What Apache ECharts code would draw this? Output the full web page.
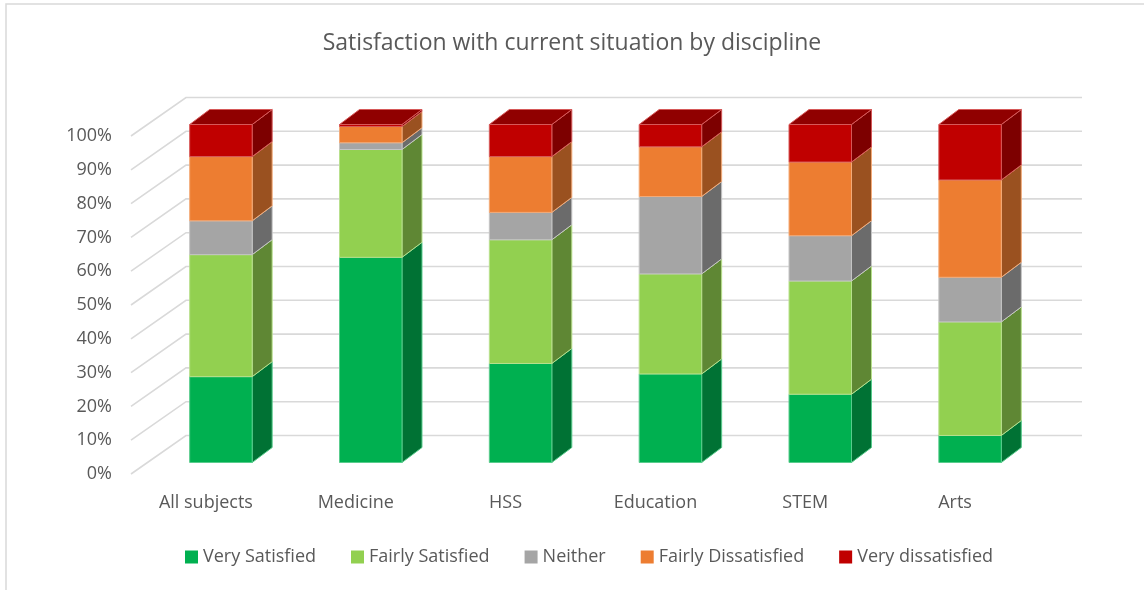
<!DOCTYPE html>
<html>
<head>
<meta charset="utf-8">
<script src="https://cdn.jsdelivr.net/npm/echarts@6/dist/echarts.min.js"></script>
<style>
  html, body { margin: 0; padding: 0; background: #fff; }
  #chart { width: 1144px; height: 590px; }
</style>
</head>
<body>
<div id="chart"></div>
<script>
const categories = ['All subjects', 'Medicine', 'HSS', 'Education', 'STEM', 'Arts'];
const verySatisfied = [25.4, 60.7, 29.3, 26.2, 20.2, 8.0];
const fairlySatisfied = [36.1, 31.9, 36.6, 29.6, 33.5, 33.6];
const neither = [10.0, 2.0, 8.1, 22.9, 13.4, 13.2];
const fairlyDissatisfied = [19.0, 4.8, 16.5, 14.7, 21.8, 28.8];
const veryDissatisfied = [9.5, 0.6, 9.5, 6.6, 11.1, 16.4];
const yTicks = [0, 10, 20, 30, 40, 50, 60, 70, 80, 90, 100];

const seriesNames = ['Very Satisfied', 'Fairly Satisfied', 'Neither', 'Fairly Dissatisfied', 'Very dissatisfied'];
const seriesValues = [verySatisfied, fairlySatisfied, neither, fairlyDissatisfied, veryDissatisfied];
const colors = ['#00B050', '#92D050', '#A5A5A5', '#ED7D31', '#C00000'];

// 3d look: floor/wall depth and bar depth, in px
const WALL_DX = 55, WALL_DY = 38.5;
const FRONT_DX = 15, FRONT_DY = 11.5;
const BAR_DX = 20, BAR_DY = 15;
const BAR_WIDTH = 0.417;
const TEXT = '#595959';
const FONT = 'Open Sans';

function shade(hex, k) {
    const n = parseInt(hex.slice(1), 16);
    const r = Math.round(((n >> 16) & 255) * k);
    const g = Math.round(((n >> 8) & 255) * k);
    const b = Math.round((n & 255) * k);
    return `rgb(${r},${g},${b})`;
}

function tint(hex, k) {
    const n = parseInt(hex.slice(1), 16);
    const f = (c) => Math.round(c + (255 - c) * k);
    return `rgb(${f((n >> 16) & 255)},${f((n >> 8) & 255)},${f(n & 255)})`;
}

const chart = echarts.init(document.getElementById('chart'));

const wallSeries = {
    type: 'custom',
    name: 'wall',
    silent: true,
    z: 1,
    data: yTicks.map((t) => [0, t]),
    encode: { x: 0, y: 1 },
    renderItem: (params, api) => {
        const cs = params.coordSys;
        const y = api.coord([0, api.value(1)])[1];
        const left = cs.x;
        const right = cs.x + cs.width;
        return {
            type: 'polyline',
            shape: {
                points: [
                    [left, y],
                    [left + WALL_DX, y - WALL_DY],
                    [right + WALL_DX - 3, y - WALL_DY],
                ],
            },
            style: { stroke: '#D9D9D9', lineWidth: 1.6, fill: null },
        };
    },
};

const barSeries = seriesNames.map((name, s) => {
    const isTop = s === seriesNames.length - 1;
    const color = colors[s];
    const data = categories.map((c, i) => {
        let lo = 0;
        for (let k = 0; k < s; k++) lo += seriesValues[k][i];
        return [i, lo, lo + seriesValues[s][i]];
    });
    return {
        type: 'custom',
        name,
        z: 2,
        itemStyle: { color },
        data,
        encode: { x: 0, y: [1, 2] },
        renderItem: (params, api) => {
            const cat = api.value(0);
            const pLo = api.coord([cat, api.value(1)]);
            const pHi = api.coord([cat, api.value(2)]);
            const bw = api.size([1, 0])[0] * BAR_WIDTH;
            const x0 = pLo[0] - bw / 2 + FRONT_DX;
            const x1 = x0 + bw;
            const yB = pLo[1] - FRONT_DY;
            const yT = pHi[1] - FRONT_DY;
            const edge = tint(color, 0.35);
            const children = [
                {
                    type: 'polygon',
                    shape: { points: [[x1, yB], [x1 + BAR_DX, yB - BAR_DY], [x1 + BAR_DX, yT - BAR_DY], [x1, yT]] },
                    style: { fill: shade(color, 0.65), stroke: edge, lineWidth: 1 },
                },
                {
                    type: 'rect',
                    shape: { x: x0, y: yT, width: bw, height: yB - yT },
                    style: { fill: color, stroke: edge, lineWidth: 1 },
                },
            ];
            if (isTop) {
                children.push({
                    type: 'polygon',
                    shape: { points: [[x0, yT], [x1, yT], [x1 + BAR_DX, yT - BAR_DY], [x0 + BAR_DX, yT - BAR_DY]] },
                    style: { fill: shade(color, 0.75), stroke: edge, lineWidth: 1 },
                });
            }
            return { type: 'group', children };
        },
    };
});

const option = {
    animation: false,
    textStyle: { fontFamily: FONT },
    title: {
        text: 'Satisfaction with current situation by discipline',
        left: 'center',
        top: 27,
        textStyle: { color: TEXT, fontSize: 23, fontWeight: 'normal', fontFamily: FONT },
    },
    graphic: [
        {
            type: 'rect',
            shape: { x: 6, y: 4, width: 1200, height: 700 },
            style: { fill: null, stroke: '#D9D9D9', lineWidth: 1.5 },
            silent: true,
        },
    ],
    legend: {
        data: seriesNames,
        left: 180,
        top: 543,
        icon: 'rect',
        itemWidth: 13,
        itemHeight: 13,
        itemGap: 35,
        textStyle: { color: TEXT, fontSize: 18, fontFamily: FONT },
    },
    grid: {
        left: 131,
        right: 114,
        top: 136,
        bottom: 116,
    },
    xAxis: {
        type: 'category',
        data: categories,
        axisLine: { show: false },
        axisTick: { show: false },
        axisLabel: { color: TEXT, fontSize: 18, margin: 20, fontFamily: FONT },
    },
    yAxis: {
        type: 'value',
        min: 0,
        max: 100,
        interval: 10,
        splitLine: { show: false },
        axisLine: { show: false },
        axisTick: { show: false },
        axisLabel: {
            color: TEXT,
            fontSize: 18,
            margin: 19,
            padding: [5, 0, 0, 0],
            formatter: '{value}%',
            fontFamily: FONT,
        },
    },
    series: [wallSeries, ...barSeries],
};

chart.setOption(option);
</script>
</body>
</html>
